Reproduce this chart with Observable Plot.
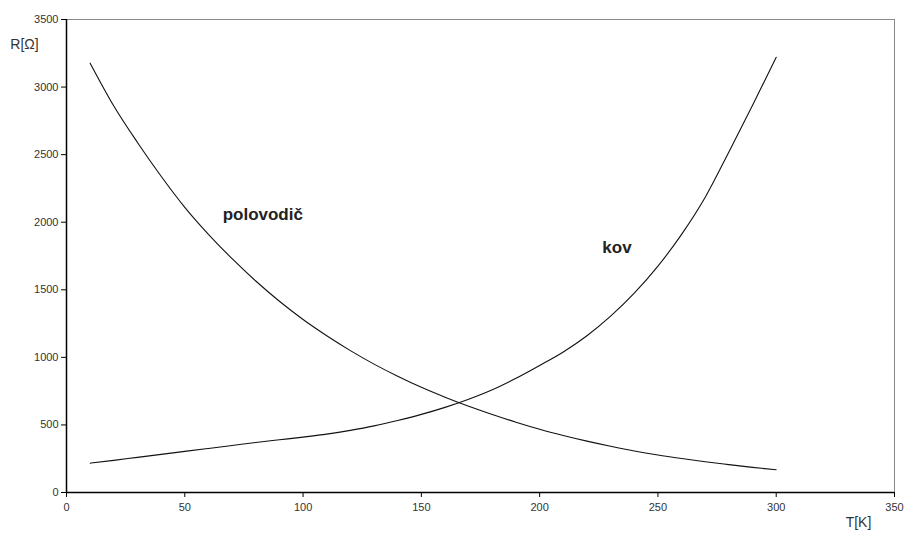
<!DOCTYPE html>
<html>
<head>
<meta charset="utf-8">
<script src="https://cdn.jsdelivr.net/npm/d3@7"></script>
<script src="https://cdn.jsdelivr.net/npm/@observablehq/plot@0.6"></script>
<style>
  html, body { margin: 0; padding: 0; background: #fff; }
  #chart svg { font-family: "Liberation Sans", Arial, sans-serif; display: block; }
</style>
</head>
<body>
<div id="chart"></div>
<script>
const temperatures = [10, 20, 30, 40, 50, 60, 70, 80, 90, 100, 110, 120, 130, 140, 150,
                      160, 170, 180, 190, 200, 210, 220, 230, 240, 250, 260, 270, 280, 290, 300];
const kovValues = [217, 238, 260, 282, 304, 326, 348, 370, 390, 410, 432, 460, 493, 533, 578,
                   630, 690, 760, 845, 940, 1040, 1160, 1305, 1475, 1675, 1910, 2185, 2520, 2865, 3220];
const polovodicValues = [3177, 2860, 2590, 2340, 2110, 1910, 1730, 1565, 1415, 1280, 1160, 1050, 950, 860, 778,
                         705, 638, 577, 520, 468, 422, 380, 342, 307, 277, 251, 227, 206, 186, 168];
const xTicks = [0, 50, 100, 150, 200, 250, 300, 350];
const yTicks = [0, 500, 1000, 1500, 2000, 2500, 3000, 3500];
const seriesLabels = [
  {name: "polovodič", T: 66, R: 2057},
  {name: "kov", T: 226.5, R: 1813}
];
const xLabel = "T[K]";
const yLabel = "R[Ω]";

const kov = temperatures.map((t, i) => ({T: t, R: kovValues[i]}));
const polovodic = temperatures.map((t, i) => ({T: t, R: polovodicValues[i]}));

const chart = Plot.plot({
  width: 905,
  height: 536,
  marginLeft: 66,
  marginRight: 11,
  marginTop: 19,
  marginBottom: 44,
  style: {fontFamily: "'Liberation Sans', Arial, sans-serif", color: "#333", background: "#fff"},
  x: {domain: [0, 350]},
  y: {domain: [0, 3500]},
  marks: [
    Plot.frame({stroke: "#8a8a8a", strokeWidth: 1}),
    Plot.axisX({ticks: xTicks, tickFormat: "d", tickSize: 5, tickPadding: 6, fontSize: 11, label: null, stroke: "#000"}),
    Plot.axisY({ticks: yTicks, tickFormat: "d", tickSize: 5, tickPadding: 3, fontSize: 11, label: null, stroke: "#000"}),
    Plot.ruleX([0], {stroke: "#000", strokeWidth: 1.5}),
    Plot.ruleY([0], {stroke: "#000", strokeWidth: 1.5}),
    Plot.line(polovodic, {x: "T", y: "R", stroke: "#111", strokeWidth: 1.1, curve: "monotone-x"}),
    Plot.line(kov, {x: "T", y: "R", stroke: "#111", strokeWidth: 1.1, curve: "monotone-x"}),
    Plot.text(seriesLabels, {x: "T", y: "R", text: "name", textAnchor: "start", fontSize: 17, fontWeight: "bold", fill: "#222"}),
    Plot.text([yLabel], {frameAnchor: "top-left", dx: -42, dy: 20, fontSize: 14, fill: "#333", textAnchor: "middle"}),
    Plot.text([xLabel], {frameAnchor: "bottom-right", dx: -36, dy: 34, fontSize: 14, fill: "#333", textAnchor: "middle"})
  ]
});
document.getElementById("chart").appendChild(chart);
</script>
</body>
</html>
